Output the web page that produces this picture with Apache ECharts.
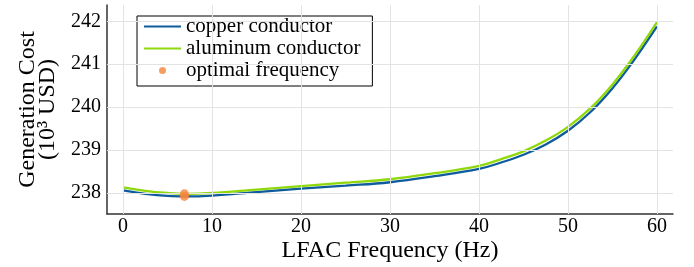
<!DOCTYPE html>
<html>
<head>
<meta charset="utf-8">
<script src="https://cdn.jsdelivr.net/npm/echarts@6/dist/echarts.min.js"></script>
<style>
  html, body { margin: 0; padding: 0; background: #fff; }
  #chart { width: 694px; height: 267px; }
</style>
</head>
<body>
<div id="chart"></div>
<script>
// frequency (Hz)
var freq = [0, 2.5, 5, 7, 10, 15, 20, 25, 30, 35, 40, 42.5, 45, 47.5, 50, 52.5, 55, 57.5, 60];
// generation cost (10^3 USD)
var copper = [238.06, 237.98, 237.93, 237.92, 237.94, 238.02, 238.10, 238.17, 238.25, 238.39, 238.56, 238.71, 238.89, 239.13, 239.45, 239.88, 240.44, 241.12, 241.88];
var aluminum = [238.13, 238.05, 238.00, 237.98, 238.00, 238.08, 238.16, 238.24, 238.32, 238.46, 238.63, 238.79, 238.97, 239.22, 239.54, 239.97, 240.53, 241.21, 241.98];
var optimal = [[6.9, 237.92], [6.9, 237.98]];
var xTicks = [0, 10, 20, 30, 40, 50, 60];
var yTicks = [238, 239, 240, 241, 242];

var serif = '"Liberation Serif", "DejaVu Serif", serif';

function pairs(xs, ys) {
  return xs.map(function (x, i) { return [x, ys[i]]; });
}

var chart = echarts.init(document.getElementById('chart'));

var lineIcon = 'path://M0,0H37V2.2H0Z';

var option = {
  animation: false,
  grid: { left: 107, right: 21, top: 5, bottom: 53, outerBoundsMode: 'none' },
  legend: {
    left: 137,
    top: 16,
    orient: 'vertical',
    itemGap: 1,
    itemWidth: 37,
    itemHeight: 7,
    padding: [0, 12, 5, 7],
    borderColor: '#000',
    borderWidth: 1,
    borderRadius: 0,
    backgroundColor: '#fff',
    textStyle: { fontFamily: serif, fontSize: 21, color: '#000' },
    data: [
      { name: 'copper conductor', icon: lineIcon },
      { name: 'aluminum conductor', icon: lineIcon },
      { name: 'optimal frequency', icon: 'circle' }
    ]
  },
  xAxis: {
    type: 'value',
    min: -1.8,
    max: 61.8,
    name: 'LFAC Frequency (Hz)',
    nameLocation: 'middle',
    nameMoveOverlap: false,
    nameGap: 25,
    nameTextStyle: { fontFamily: serif, fontSize: 24, color: '#000' },
    axisLine: { show: true, onZero: false, lineStyle: { color: '#333', width: 1.5 } },
    axisTick: { show: true, inside: true, length: 3, customValues: xTicks, lineStyle: { color: '#333' } },
    axisLabel: {
      fontFamily: serif, fontSize: 20, color: '#000', margin: 3,
      customValues: xTicks
    },
    splitLine: { show: false }
  },
  yAxis: {
    type: 'value',
    min: 237.51,
    max: 242.38,
    name: 'Generation Cost\n(10³ USD)',
    nameLocation: 'middle',
    nameGap: 27,
    nameTextStyle: { fontFamily: serif, fontSize: 24, color: '#000', lineHeight: 20 },
    axisLine: { show: true, onZero: false, lineStyle: { color: '#333', width: 1.5 } },
    axisTick: { show: true, inside: true, length: 3, customValues: yTicks, lineStyle: { color: '#333' } },
    axisLabel: {
      fontFamily: serif, fontSize: 20, color: '#000', margin: 6,
      customValues: yTicks
    },
    splitLine: { show: false }
  },
  series: [
    {
      name: 'copper conductor',
      type: 'line',
      data: pairs(freq, copper),
      smooth: 0.4,
      showSymbol: false,
      color: '#0f5c9c',
      lineStyle: { width: 2.3, color: '#0f5c9c' },
      z: 3,
      markLine: {
        silent: true,
        symbol: 'none',
        label: { show: false },
        lineStyle: { color: '#e3e3e3', width: 1, type: 'solid' },
        data: xTicks.map(function (v) { return { xAxis: v }; })
          .concat(yTicks.map(function (v) { return { yAxis: v }; }))
      }
    },
    {
      name: 'aluminum conductor',
      type: 'line',
      data: pairs(freq, aluminum),
      smooth: 0.4,
      showSymbol: false,
      color: '#8fd80a',
      lineStyle: { width: 2.3, color: '#8fd80a' },
      z: 4
    },
    {
      name: 'optimal frequency',
      type: 'scatter',
      data: optimal,
      symbolSize: 9,
      color: '#f5843c',
      itemStyle: { color: '#f5843c' },
      z: 5
    }
  ]
};

chart.setOption(option);
</script>
</body>
</html>
